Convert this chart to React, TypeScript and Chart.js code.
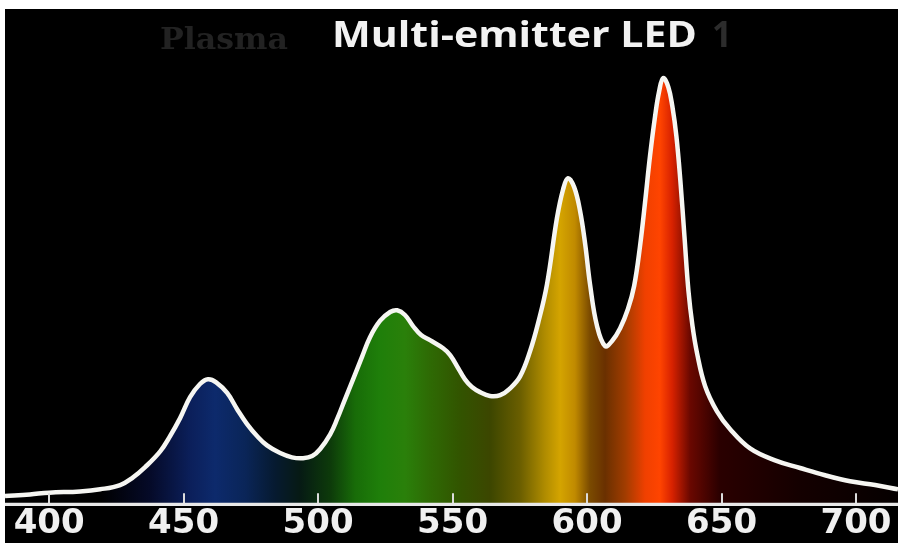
import React, { useEffect, useRef } from "react";
import { Chart, registerables } from "chart.js";

Chart.register(...registerables);

// Spectrum of the multi-emitter LED: wavelength (nm) and relative intensity (peak = 1)
const wavelengths = [
  383.6, 392.9, 400.0, 411.5, 419.0, 426.4, 431.2, 435.7, 441.3, 445.0,
  448.7, 452.4, 456.1, 459.1, 462.1, 466.2, 469.9, 473.6, 477.3, 481.0,
  485.9, 490.3, 494.4, 497.8, 500.7, 504.5, 507.1, 510.0, 513.0, 516.4,
  519.3, 523.0, 526.8, 529.4, 532.3, 535.3, 538.3, 541.6, 546.5, 549.1,
  552.1, 554.6, 557.2, 560.2, 563.9, 567.7, 571.4, 575.1, 578.8, 581.8,
  585.1, 588.8, 591.1, 592.9, 595.2, 597.4, 599.3, 601.1, 603.7, 606.7,
  609.3, 612.3, 615.2, 617.5, 619.7, 621.6, 623.4, 625.3, 626.8, 628.3,
  630.2, 631.7, 633.2, 634.7, 636.2, 637.7, 639.2, 640.9, 643.9, 648.3,
  653.2, 660.6, 669.9, 679.2, 688.5, 697.8, 707.1, 715.6,
];
const intensity = [
  0.019, 0.023, 0.027, 0.030, 0.035, 0.045, 0.063, 0.087, 0.124, 0.160,
  0.202, 0.251, 0.282, 0.293, 0.286, 0.261, 0.223, 0.188, 0.160, 0.138,
  0.120, 0.110, 0.108, 0.113, 0.129, 0.164, 0.200, 0.246, 0.293, 0.347,
  0.392, 0.430, 0.451, 0.455, 0.444, 0.418, 0.397, 0.385, 0.366, 0.350,
  0.319, 0.293, 0.275, 0.263, 0.254, 0.256, 0.272, 0.300, 0.359, 0.425,
  0.516, 0.671, 0.739, 0.765, 0.744, 0.688, 0.610, 0.516, 0.418, 0.371,
  0.383, 0.413, 0.458, 0.512, 0.606, 0.711, 0.817, 0.911, 0.969, 1.000,
  0.979, 0.934, 0.864, 0.758, 0.629, 0.500, 0.418, 0.354, 0.277, 0.218,
  0.176, 0.131, 0.103, 0.085, 0.068, 0.054, 0.045, 0.035,
];
const tickValues = [400, 450, 500, 550, 600, 650, 700];

const titleText = "Multi-emitter LED";
const ghostLeftText = "Plasma";
const ghostRightText = "1";

// Colour of the light at each wavelength, used for the fill under the curve
const spectrumStops: [number, string][] = [
  [419, "#000000"],
  [437.5, "#050a28"],
  [452.4, "#0b1f5a"],
  [461.7, "#0d2a6c"],
  [472.9, "#0a2558"],
  [484, "#061a30"],
  [493.3, "#061a14"],
  [504.5, "#0d3a0a"],
  [513.8, "#186c08"],
  [523, "#1f7f0a"],
  [532.3, "#2a800a"],
  [541.6, "#2e6a04"],
  [552.8, "#325400"],
  [563.9, "#3c4600"],
  [575.1, "#6a5e00"],
  [584.4, "#b08c00"],
  [590, "#d4a400"],
  [595.5, "#c08a00"],
  [601.1, "#7a4a00"],
  [606.7, "#6a3000"],
  [614.1, "#a03c00"],
  [621.6, "#f04000"],
  [627.1, "#ff4400"],
  [631.6, "#d82200"],
  [638.3, "#6a0800"],
  [649.4, "#2a0000"],
  [679.2, "#140000"],
  [715.6, "#050000"],
];

function drawFitted(
  ctx: CanvasRenderingContext2D,
  text: string,
  x: number,
  y: number,
  width: number,
  font: string,
  color: string
) {
  ctx.save();
  ctx.font = font;
  ctx.fillStyle = color;
  ctx.textAlign = "left";
  ctx.textBaseline = "alphabetic";
  const w = ctx.measureText(text).width || 1;
  ctx.translate(x, y);
  ctx.scale(width / w, 1);
  ctx.fillText(text, 0, 0);
  ctx.restore();
}

// Axis line and short upward tick marks drawn over the coloured fill
const axisMarks = {
  id: "axisMarks",
  afterDatasetsDraw(chart: any) {
    const { ctx, chartArea } = chart;
    const xs = chart.scales.x;
    const y = chartArea.bottom;
    ctx.save();
    ctx.strokeStyle = "#dcdcdc";
    ctx.lineWidth = 2;
    xs.ticks.forEach((t: any) => {
      const px = Math.round(xs.getPixelForValue(t.value));
      ctx.beginPath();
      ctx.moveTo(px, y - 11);
      ctx.lineTo(px, y);
      ctx.stroke();
    });
    ctx.strokeStyle = "#e8e8e8";
    ctx.lineWidth = 3;
    ctx.beginPath();
    ctx.moveTo(chartArea.left, y);
    ctx.lineTo(chartArea.right, y);
    ctx.stroke();
    ctx.restore();
  },
};

// Heading text above the plot
const heading = {
  id: "heading",
  afterDraw(chart: any) {
    const ctx = chart.ctx as CanvasRenderingContext2D;
    drawFitted(ctx, ghostLeftText, 155, 40, 128, 'bold 30px "DejaVu Serif"', "#222222");
    drawFitted(ctx, titleText, 327, 38, 365, 'bold 35px "Open Sans"', "#f2f2f2");
    drawFitted(ctx, ghostRightText, 707, 38, 20, 'bold 35px "Open Sans"', "#2c2c2c");
  },
};

export default function App() {
  const canvasRef = useRef<HTMLCanvasElement | null>(null);

  useEffect(() => {
    document.body.style.margin = "0";
    const canvas = canvasRef.current;
    if (!canvas) return;

    const points = wavelengths.map((w, i) => ({ x: w, y: intensity[i] }));

    const chart = new Chart(canvas, {
      type: "line",
      data: {
        datasets: [
          {
            data: points,
            borderColor: "#f6f6f2",
            borderWidth: 4.5,
            pointRadius: 0,
            tension: 0.4,
            fill: "origin",
            backgroundColor: (c: any) => {
              const ch = c.chart;
              const area = ch.chartArea;
              if (!area) return "transparent";
              const xs = ch.scales.x;
              const g = ch.ctx.createLinearGradient(area.left, 0, area.right, 0);
              const span = area.right - area.left;
              spectrumStops.forEach(([nm, col]) => {
                const p = (xs.getPixelForValue(nm) - area.left) / span;
                g.addColorStop(Math.min(1, Math.max(0, p)), col);
              });
              return g;
            },
          },
        ],
      },
      options: {
        animation: false,
        responsive: false,
        maintainAspectRatio: false,
        devicePixelRatio: 1,
        layout: { padding: 0 },
        plugins: {
          legend: { display: false },
          tooltip: { enabled: false },
          title: { display: false },
        },
        scales: {
          x: {
            type: "linear",
            min: 383.6,
            max: 715.6,
            afterBuildTicks: (scale: any) => {
              scale.ticks = tickValues.map((v) => ({ value: v }));
            },
            grid: { display: true, drawOnChartArea: false, drawTicks: false, color: "transparent" },
            border: { display: true, color: "#e8e8e8", width: 3 },
            ticks: {
              autoSkip: false,
              maxRotation: 0,
              padding: 0,
              color: "#f0f0f0",
              font: { family: '"DejaVu Sans"', weight: "bold", size: 34 },
              callback: (v: any) => String(v),
            },
          },
          y: {
            display: false,
            min: 0,
            max: 1.162,
          },
        },
      },
      plugins: [axisMarks, heading],
    });

    return () => chart.destroy();
  }, []);

  return (
    <div
      style={{
        width: 900,
        height: 543,
        background: "#ffffff",
        position: "relative",
        overflow: "hidden",
      }}
    >
      <canvas
        ref={canvasRef}
        width={893}
        height={536}
        style={{
          position: "absolute",
          left: 5,
          top: 9,
          width: 893,
          height: 536,
          background: "#000000",
          display: "block",
        }}
      />
    </div>
  );
}
